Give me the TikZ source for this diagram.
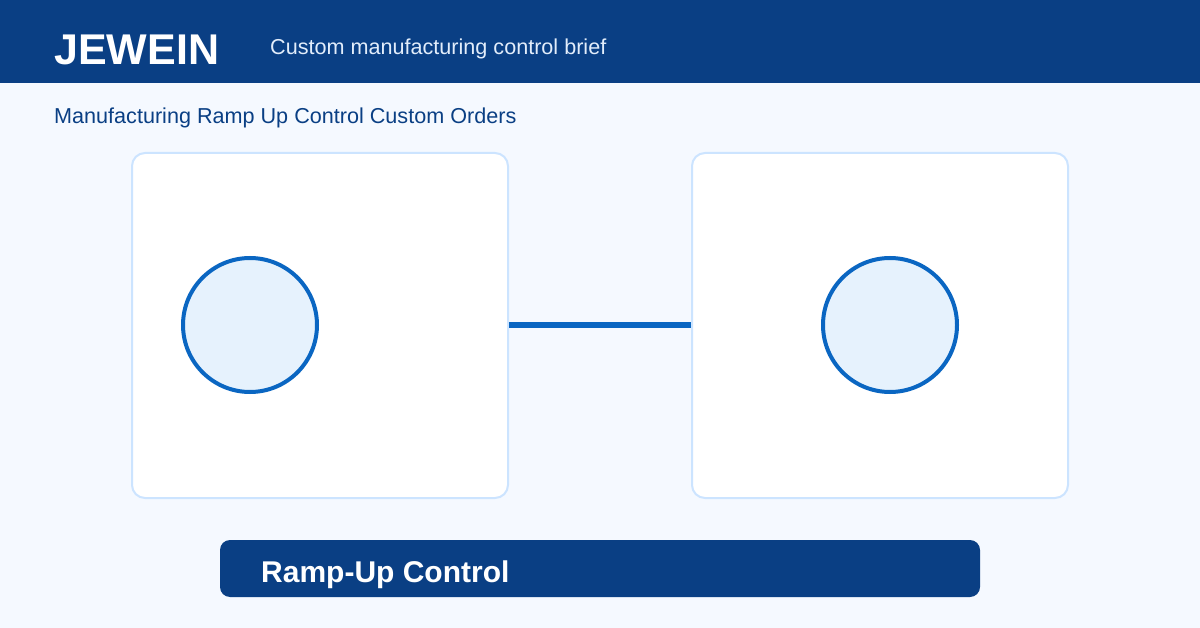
\documentclass[tikz,border=0pt]{standalone}
\usepackage{fontspec}
\setmainfont{Liberation Sans}
\definecolor{navy}{HTML}{0A3F84}
\definecolor{pagebg}{HTML}{F5F9FF}
\definecolor{boxline}{HTML}{CCE4FF}
\definecolor{accent}{HTML}{0A66C2}
\definecolor{dotfill}{HTML}{E6F2FD}
\definecolor{subtext}{HTML}{E2EDFB}
\tikzset{
    panel/.style={draw=boxline, line width=2pt, fill=white, rounded corners=13pt,
        minimum width=376pt, minimum height=345pt, inner sep=0pt},
    dot/.style={circle, draw=accent, line width=4pt, fill=dotfill,
        minimum size=134pt, inner sep=0pt},
    label/.style={anchor=base west, inner sep=0pt}
}
\begin{document}
\begin{tikzpicture}[x=1pt, y=-1pt]
    % Background
    \useasboundingbox (0, 0) rectangle (1200, 628);
    \fill[pagebg] (0, 0) rectangle (1200, 628);
    
    % Header
    \fill[navy] (0, 0) rectangle (1200, 83);
    \node[label, text=white] (brand) at (54, 65) {\fontsize{43}{50}\selectfont\bfseries JEWEIN};
    \node[label, text=subtext] (brief) at (270, 55) {\fontsize{21.6}{26}\selectfont Custom manufacturing control brief};
    \node[label, text=navy] (title) at (54, 124) {\fontsize{21.6}{26}\selectfont Manufacturing Ramp Up Control Custom Orders};
    
    % Panels
    \node[panel] (left) at (320, 325.5) {};
    \node[panel] (right) at (880, 325.5) {};
    \node[dot] (leftdot) at (250, 325) {};
    \node[dot] (rightdot) at (890, 325) {};
    
    % Link
    \draw[accent, line width=6pt] (left.east) -- (right.west);
    
    % Footer bar
    \fill[navy, rounded corners=10pt] (220, 540) rectangle (980, 597);
    \node[label, text=white] (footer) at (261, 582) {\fontsize{30}{35}\selectfont\bfseries Ramp-Up Control};
\end{tikzpicture}
\end{document}
